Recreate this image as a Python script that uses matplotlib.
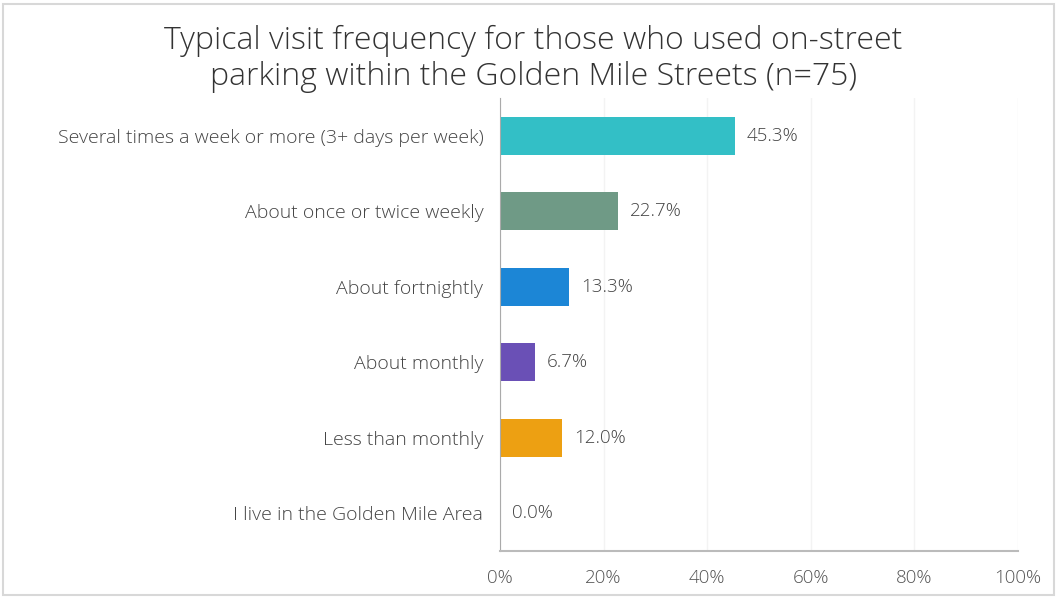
import matplotlib.pyplot as plt
from matplotlib.patches import Rectangle

# Survey categories and shares (%)
categories = ["Several times a week or more (3+ days per week)",
              "About once or twice weekly",
              "About fortnightly",
              "About monthly",
              "Less than monthly",
              "I live in the Golden Mile Area"]
values = [45.3, 22.7, 13.3, 6.7, 12.0, 0.0]
colors = ["#33BFC6", "#6F9A86", "#1C86D6", "#6A50B6", "#EDA012", "#999999"]
x_ticks = [0, 20, 40, 60, 80, 100]

plt.rcParams['font.family'] = ['Open Sans', 'DejaVu Sans']

fig = plt.figure(figsize=(10.57, 5.97), dpi=100)
ax = fig.add_axes([500/1057, 1 - 551/597, 518/1057, 453/597])

y = list(range(len(categories)))
ax.barh(y, values, height=0.5, color=colors)
ax.set_ylim(len(categories) - 0.5, -0.5)
ax.set_xlim(0, 100)

# value labels
for i, v in enumerate(values):
    ax.text(v + 2.3, i, f"{v:.1f}%", va="center", ha="left",
            fontsize=13.5, color="#444444", weight="light")

ax.set_yticks(y)
ax.set_yticklabels(categories, fontsize=14, color="#444444", weight="light")
ax.set_xticks(x_ticks)
ax.set_xticklabels([f"{t}%" for t in x_ticks], fontsize=13.5, color="#555555",
                   weight="light")
ax.tick_params(axis="both", length=0)
ax.tick_params(axis="y", pad=12)
ax.tick_params(axis="x", pad=13)

ax.grid(axis="x", color="#F3F3F3", linewidth=1)
ax.set_axisbelow(True)
for s in ["top", "right"]:
    ax.spines[s].set_visible(False)
ax.spines["left"].set_color("#AAAAAA")
ax.spines["bottom"].set_color("#BBBBBB")
ax.spines["bottom"].set_linewidth(1.5)

fig.text(533/1057, 1 - 59/597,
         "Typical visit frequency for those who used on-street\nparking within the Golden Mile Streets (n=75)",
         ha="center", va="center", fontsize=23, color="#333333", linespacing=1.2,
         weight="light")

# light frame around the chart
fig.patches.append(Rectangle((0.003, 0.004), 0.994, 0.99, transform=fig.transFigure,
                             fill=False, edgecolor="#D8D8D8", linewidth=1.5))

fig.savefig("out.png", dpi=100)
